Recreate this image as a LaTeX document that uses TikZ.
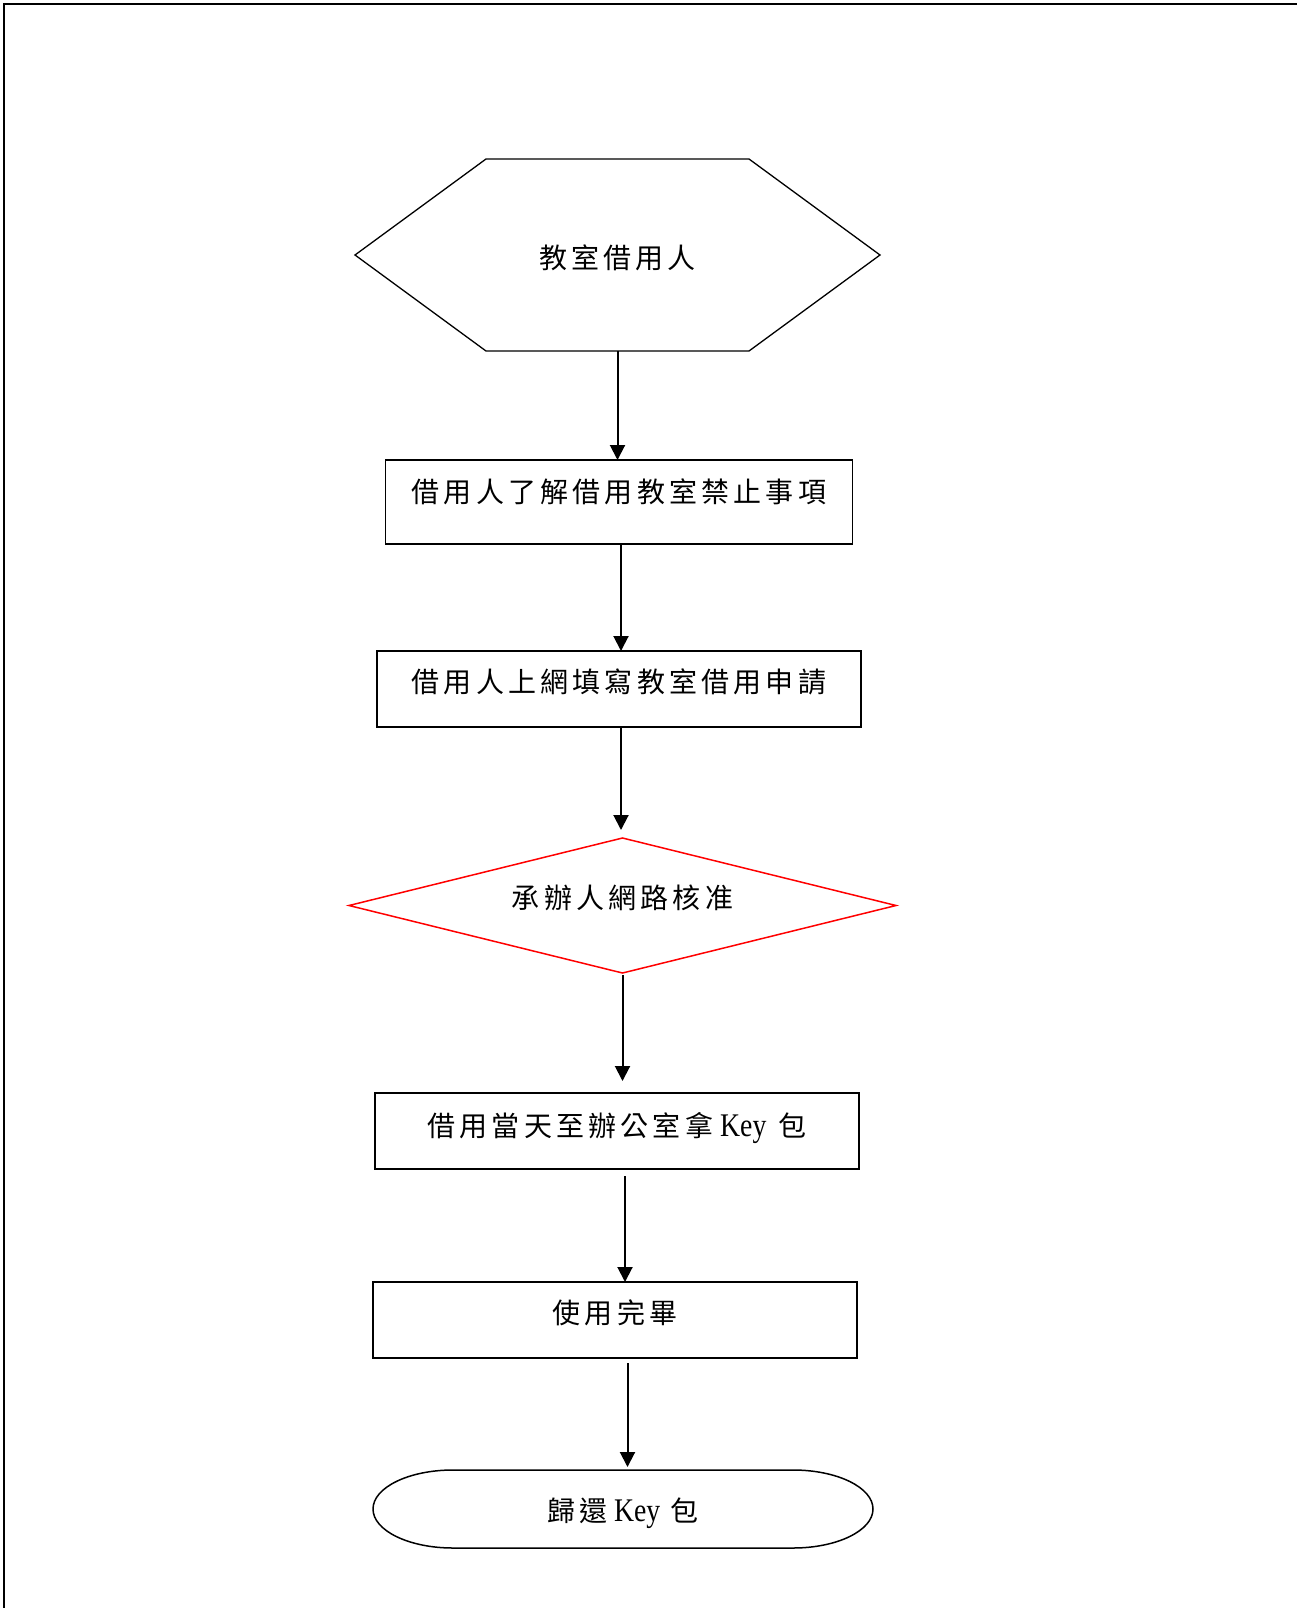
\documentclass[tikz,border=0pt]{standalone}
\usepackage{fontspec}
\usepackage{graphicx}
\newfontfamily\cjk[LetterSpace=15]{Noto Sans CJK TC}
\newfontfamily\lat{Liberation Serif}
\usetikzlibrary{arrows.meta,calc}
\tikzset{
  txt/.style={font=\cjk\fontsize{28}{28}\selectfont, inner sep=0pt, outer sep=0pt, align=center},
  boxnode/.style={txt, draw, line width=1.5pt},
  shapeline/.style={line width=1.5pt},
  arr/.style={line width=2pt, -{Triangle[length=15pt,width=15pt]}},
  lift/.style 2 args={text height=#1, text depth=#2}
}
\newcommand{\keyword}{\scalebox{0.84}[1]{\lat\fontsize{33}{33}\selectfont Key}}
\begin{document}
\begin{tikzpicture}[x=1pt,y=-1pt]
\useasboundingbox (0,0) rectangle (1296,1608);
% frame
\draw[line width=2.2pt] (4,1612) -- (4,4) -- (1300,4);

% start hexagon
\node[txt, minimum width=525pt, minimum height=192pt, lift={27.3pt}{0.7pt}] (start) at (617.5,255) {教室借用人};
\draw[shapeline, line width=1.3pt] (start.west) -- ([xshift=131pt]start.north west) -- ([xshift=-131pt]start.north east)
  -- (start.east) -- ([xshift=-131pt]start.south east) -- ([xshift=131pt]start.south west) -- cycle;

% boxes
\node[boxnode, minimum width=467pt, minimum height=84pt, lift={14.3pt}{13.7pt}] (b1) at (619,502) {借用人了解借用教室禁止事項};
\node[boxnode, minimum width=484pt, minimum height=76pt, lift={17.3pt}{10.7pt}] (b2) at (619,689) {借用人上網填寫教室借用申請};

% decision diamond
\node[txt, minimum width=547pt, minimum height=135pt, lift={16.8pt}{11.2pt}] (dia) at (622.5,905.5) {承辦人網路核准};
\draw[shapeline, draw=red] (dia.north) -- (dia.east) -- (dia.south) -- (dia.west) -- cycle;

\node[boxnode, minimum width=484pt, minimum height=76pt, lift={19.3pt}{8.7pt}] (b3) at (617,1131) {借用當天至辦公室拿\hspace{7pt}\keyword\hspace{12pt}包};
\node[boxnode, minimum width=484pt, minimum height=76pt, lift={17.3pt}{10.7pt}] (b4) at (615,1320) {使用完畢};

% terminal
\node[txt, minimum width=500pt, minimum height=78pt, lift={26.3pt}{1.7pt}] (term) at (623,1509) {歸還\hspace{6pt}\keyword\hspace{10pt}包};
\draw[shapeline] ([xshift=80pt]term.north west) -- ([xshift=-80pt]term.north east)
  arc[start angle=90, end angle=-90, x radius=80pt, y radius=39pt]
  -- ([xshift=80pt]term.south west)
  arc[start angle=270, end angle=90, x radius=80pt, y radius=39pt] -- cycle;

% connectors
\draw[arr] (start.south) -- (start.south |- b1.north);
\draw[arr] ([xshift=2pt]b1.south) -- ([xshift=2pt]b1.south |- b2.north);
\draw[arr, shorten >=8pt] ([xshift=2pt]b2.south) -- ([xshift=2pt]b2.south |- dia.north);
\draw[arr, shorten >=12pt, shorten <=2pt] (dia.south) -- (dia.south |- b3.north);
\draw[arr, shorten <=7pt] ([xshift=8pt]b3.south) -- ([xshift=8pt]b3.south |- b4.north);
\draw[arr, shorten <=5pt, shorten >=3pt] ([xshift=12.5pt]b4.south) -- ([xshift=12.5pt]b4.south |- term.north);
\end{tikzpicture}
\end{document}
